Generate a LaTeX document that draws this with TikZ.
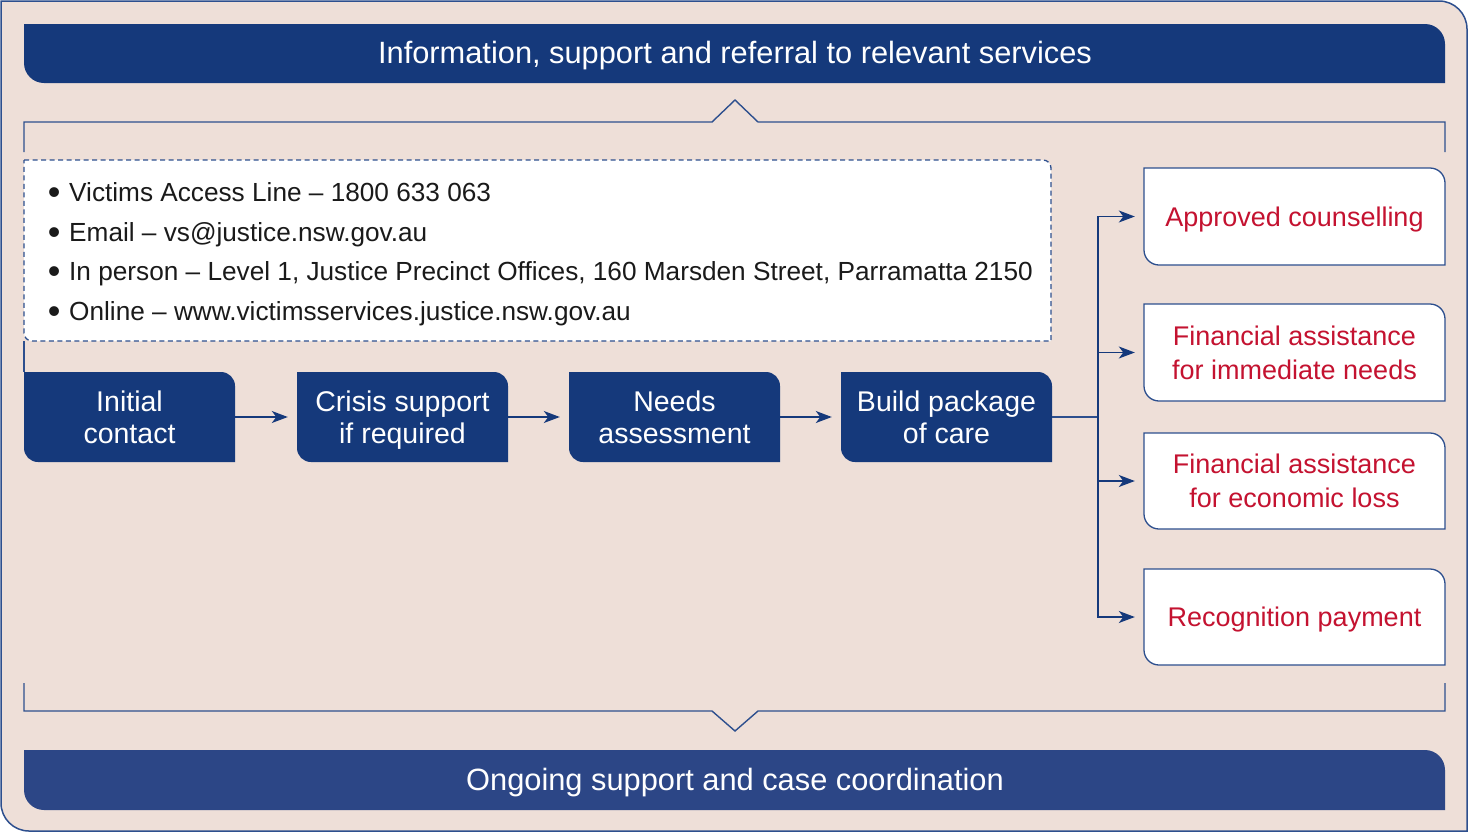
\documentclass[tikz,border=0pt]{standalone}
\usepackage{fontspec}
\setmainfont{Liberation Sans}
\usetikzlibrary{arrows.meta}
\definecolor{bg}{HTML}{EEDFD8}
\definecolor{navy}{HTML}{15397B}
\definecolor{navyb}{HTML}{2C4686}
\definecolor{edge}{HTML}{2D4F8E}
\definecolor{txtred}{HTML}{C41230}
\definecolor{txtdark}{HTML}{1A1A1A}
\newcommand{\trblshape}[6]{%
  \path[#1] (#2,#3) -- ({#4-#6},#3) arc[start angle=270,end angle=360,radius=#6] -- (#4,#5) -- ({#2+#6},#5) arc[start angle=90,end angle=180,radius=#6] -- cycle;}
\newcommand{\blt}{\llap{\raisebox{-3.5pt}{\fontsize{36}{36}\selectfont\textbullet}\hspace{8.7pt}}}
\tikzset{
  conn/.style={draw=edge,line width=1.4pt},
  arr/.style={conn,draw=navy,-{Stealth[length=16pt,width=12pt,inset=4.5pt]},shorten >=9pt},
  proctext/.style={rectangle,inner sep=0pt,minimum width=211pt,minimum height=90pt,text depth=0pt,text=white,align=center,font=\fontsize{28.5}{32}\selectfont},
  redtext/.style={rectangle,inner sep=0pt,minimum width=301pt,minimum height=97pt,text depth=0pt,text=txtred,align=center,font=\fontsize{27}{34}\selectfont},
  bannertext/.style={anchor=base,text=white,inner sep=0pt,font=\fontsize{30.8}{36}\selectfont},
  listtext/.style={anchor=base west,inner sep=0pt,text=txtdark,font=\fontsize{26.2}{30}\selectfont},
}
\begin{document}
\begin{tikzpicture}[x=1pt,y=-1pt]
\useasboundingbox (0,0) rectangle (1469,833);
% outer frame
\trblshape{fill=bg,draw=edge,line width=1.5pt}{1}{1}{1467}{831}{28}
% banners
\trblshape{fill=navy}{24}{24}{1445}{83}{20}
\node[bannertext] (top) at (735,63) {Information, support and referral to relevant services};
\trblshape{fill=navyb}{24}{750}{1445}{810}{20}
\node[bannertext] (bottom) at (735,790) {Ongoing support and case coordination};
% brackets
\draw[conn] (24,152) -- (24,122) -- (712,122) -- (735,100) -- (758,122) -- (1445,122) -- (1445,152);
\draw[conn] (24,683) -- (24,711) -- (712,711) -- (735,731) -- (758,711) -- (1445,711) -- (1445,683);
\draw[conn] (24,341) -- (24,372);
% info box
\trblshape{fill=white,draw=edge,line width=1.3pt,dash pattern=on 5pt off 3.5pt}{24}{160}{1051}{341}{8}
\node[listtext] (l1) at (69,201) {\blt Victims Access Line – 1800 633 063};
\node[listtext] (l2) at (69,241) {\blt Email – vs@justice.nsw.gov.au};
\node[listtext] (l3) at (69,280) {\blt In person – Level 1, Justice Precinct Offices, 160 Marsden Street, Parramatta 2150};
\node[listtext] (l4) at (69,320) {\blt Online – www.victimsservices.justice.nsw.gov.au};
% process boxes
\trblshape{fill=navy}{24}{372}{235}{462}{14}
\node[proctext] (ic) at (129.5,417) {Initial\\contact};
\trblshape{fill=navy}{297}{372}{508}{462}{14}
\node[proctext] (cs) at (402.5,417) {Crisis support\\if required};
\trblshape{fill=navy}{569}{372}{780}{462}{14}
\node[proctext] (na) at (674.5,417) {Needs\\assessment};
\trblshape{fill=navy}{841}{372}{1052}{462}{14}
\node[proctext] (bp) at (946.5,417) {Build package\\of care};
\draw[arr] (ic) -- (cs);
\draw[arr] (cs) -- (na);
\draw[arr] (na) -- (bp);
% outcome boxes
\trblshape{fill=white,draw=edge,line width=1.3pt}{1144}{168}{1445}{265}{15}
\node[redtext] (r1) at (1294.5,216.5) {Approved counselling};
\trblshape{fill=white,draw=edge,line width=1.3pt}{1144}{304}{1445}{401}{15}
\node[redtext] (r2) at (1294.5,352.5) {Financial assistance\\for immediate needs};
\trblshape{fill=white,draw=edge,line width=1.3pt}{1144}{433}{1445}{529}{15}
\node[redtext] (r3) at (1294.5,481) {Financial assistance\\for economic loss};
\trblshape{fill=white,draw=edge,line width=1.3pt}{1144}{569}{1445}{665}{15}
\node[redtext] (r4) at (1294.5,617) {Recognition payment};
\coordinate (trunk) at (1098,417);
\draw[conn] (bp.east) -- (trunk);
\draw[arr] (trunk) |- (r1);
\draw[arr] (trunk) |- (r2);
\draw[arr] (trunk) |- (r3);
\draw[arr] (trunk) |- (r4);
\end{tikzpicture}
\end{document}
